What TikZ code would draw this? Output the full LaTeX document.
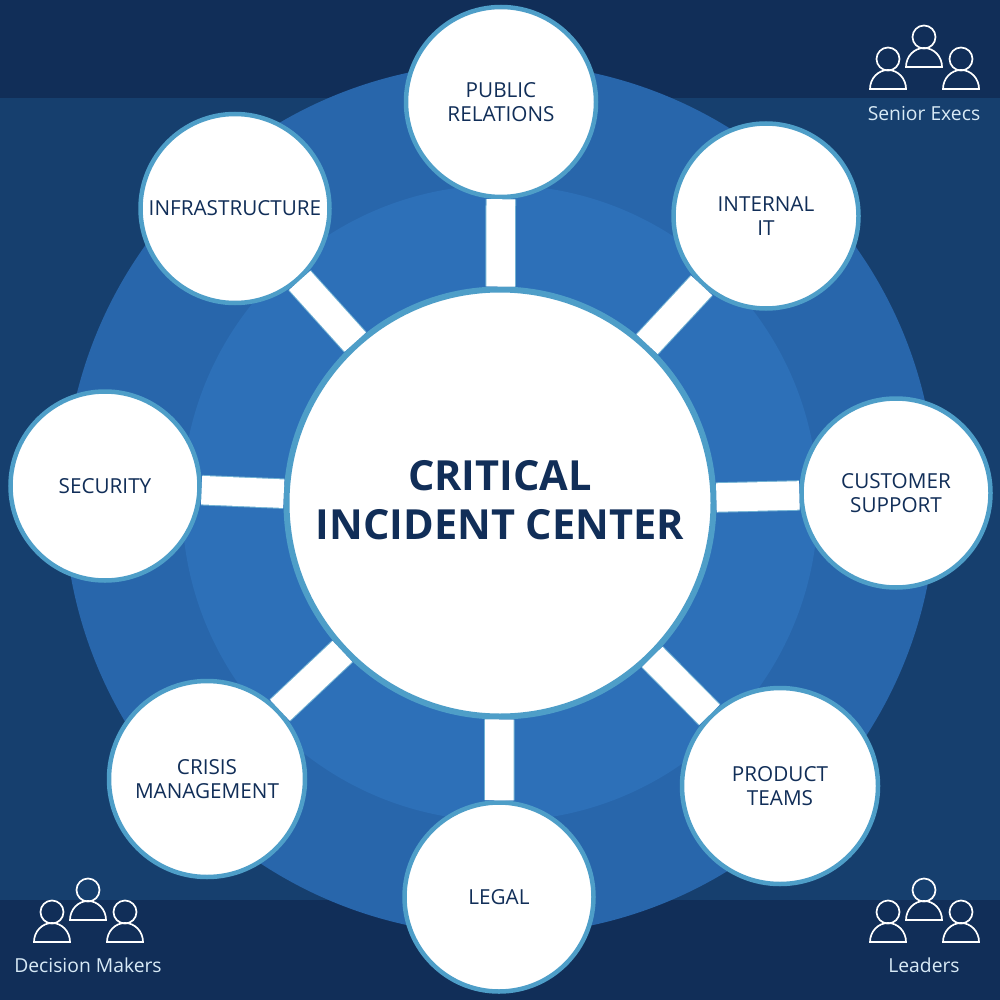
\documentclass[tikz,border=0pt]{standalone}
\usepackage{fontspec}
\setmainfont{Open Sans}
\definecolor{navy}{HTML}{112E58}
\definecolor{midnavy}{HTML}{163F6E}
\definecolor{outerblue}{HTML}{2866AB}
\definecolor{innerblue}{HTML}{2D70B8}
\definecolor{rimblue}{HTML}{4E9EC8}
\definecolor{paleblue}{HTML}{D8EAF6}

\begin{document}
\begin{tikzpicture}[x=1pt,y=-1pt,
	team/.style={draw=rimblue, fill=white, circle, line width=4.5pt, inner sep=0pt, align=center, text=navy, font=\fontsize{20.7}{24}\selectfont},
	hub/.style={team, line width=6pt, font=\fontsize{41.5}{49}\selectfont\bfseries},
	spoke/.style={draw=rimblue!80!white, line width=1pt, double=white, double distance=28.5pt},
	caption/.style={text=paleblue, font=\fontsize{19.3}{23}\selectfont},
	head/.style={draw=white, line width=1.7pt},
	person/.pic={
		\draw[head](0,-30) circle(11.5);
		\draw[head](-18,0) arc[x radius=18, y radius=19, start angle=180, end angle=360] -- cycle;
	},
	crowd/.pic={
		\pic at (-36,22){person};
		\pic at (0,0){person};
		\pic at (37,22){person};
	}]
	\useasboundingbox(0,0) rectangle(1000,1000);
	\fill[midnavy](0,0) rectangle(1000,1000);
	\fill[navy](0,0) rectangle(1000,98);
	\fill[navy](0,900) rectangle(1000,1000);
	\fill[outerblue](500,499) circle(436);
	\fill[innerblue](500,503) circle(318);

	\node[hub, minimum size=427pt] (center) at (500,503) {CRITICAL\\INCIDENT CENTER\\[-43pt]};
	\node[team, minimum size=190pt] (public) at (501,102) {PUBLIC\\RELATIONS};
	\node[team, minimum size=185pt] (internal) at (766,216) {INTERNAL\\IT};
	\node[team, minimum size=189pt] (customer) at (896,493) {CUSTOMER\\SUPPORT};
	\node[team, minimum size=196pt] (product) at (780,786) {PRODUCT\\TEAMS};
	\node[team, minimum size=189pt] (legal) at (499,897) {LEGAL};
	\node[team, minimum size=196pt] (crisis) at (207,779) {CRISIS\\MANAGEMENT};
	\node[team, minimum size=189pt] (security) at (105,486) {SECURITY};
	\node[team, minimum size=189pt] (infra) at (235,208.5) {INFRASTRUCTURE};

	\draw[spoke](center) -- (public);
	\draw[spoke](center) -- (internal);
	\draw[spoke](center) -- (customer);
	\draw[spoke](center) -- (product);
	\draw[spoke](center) -- (legal);
	\draw[spoke](center) -- (crisis);
	\draw[spoke](center) -- (security);
	\draw[spoke](center) -- (infra);

	\pic at (924,67){crowd};
	\pic at (88,920){crowd};
	\pic at (924,920){crowd};
	\node[caption] (execs) at (924,114) {Senior Execs};
	\node[caption] (makers) at (88,965) {Decision Makers};
	\node[caption] (leaders) at (924,965) {Leaders};
\end{tikzpicture}
\end{document}
